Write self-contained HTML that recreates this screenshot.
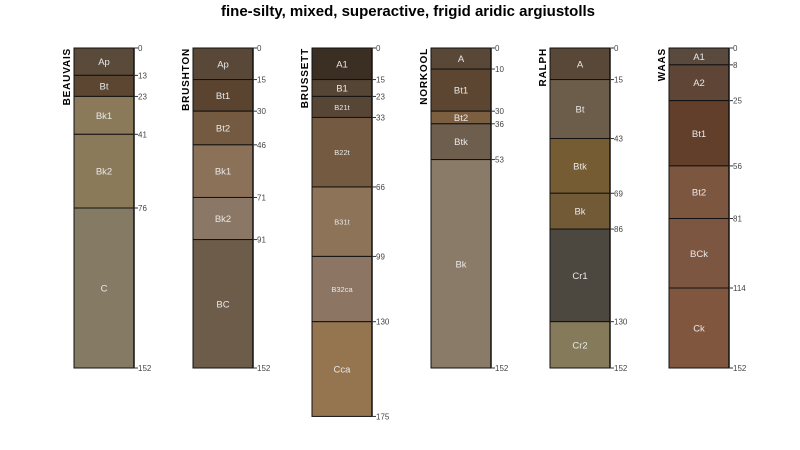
<!DOCTYPE html>
<html><head><meta charset="utf-8"><style>
body{margin:0;background:#fff;}
svg{display:block;font-family:"Liberation Sans",sans-serif;}
</style></head><body>
<svg id="c" width="800" height="450">
<text x="408" y="16" text-anchor="middle" font-size="15" font-weight="bold">fine-silty, mixed, superactive, frigid aridic argiustolls</text>
</svg>
<script>
const profileNames = ["BEAUVAIS","BRUSHTON","BRUSSETT","NORKOOL","RALPH","WAAS"];
const horizonNames = [
 ["Ap","Bt","Bk1","Bk2","C"],
 ["Ap","Bt1","Bt2","Bk1","Bk2","BC"],
 ["A1","B1","B21t","B22t","B31t","B32ca","Cca"],
 ["A","Bt1","Bt2","Btk","Bk"],
 ["A","Bt","Btk","Bk","Cr1","Cr2"],
 ["A1","A2","Bt1","Bt2","BCk","Ck"]
];
const horizonDepths = [
 [0,13,23,41,76,152],
 [0,15,30,46,71,91,152],
 [0,15,23,33,66,99,130,175],
 [0,10,30,36,53,152],
 [0,15,43,69,86,130,152],
 [0,8,25,56,81,114,152]
];
const horizonColors = [
 ["#5a4a3a","#5c4631","#8b7a5a","#8b7a5a","#857a64"],
 ["#594838","#5a4430","#735a40","#8b7158","#8a7765","#6e5c4a"],
 ["#3b2e22","#554535","#574535","#735a40","#8d7357","#8c7663","#957550"],
 ["#594838","#5c4631","#7b5f40","#6e5e4e","#8a7a68"],
 ["#594838","#6b5d4a","#755c33","#735a36","#4c4840","#857a5a"],
 ["#5a4a3e","#5e4535","#623f2a","#7d5640","#7d5642","#80563f"]
];
const NS="http://www.w3.org/2000/svg";
const svg=document.getElementById('c');
const y0=48, pxPerCm=320/152, x0=74, dx=119, w=60;
const yScale=d=>y0+d*pxPerCm;
function mk(tag,attrs,parent){const e=document.createElementNS(NS,tag);for(const k in attrs)e.setAttribute(k,attrs[k]);(parent||svg).appendChild(e);return e;}
profileNames.forEach((pn,i)=>{
 const x=x0+i*dx;
 const g=mk('g',{});
 
 
 const lab=mk('text',{x:0,y:0,transform:`translate(${x-4},${y0}) rotate(-90)`,'text-anchor':'end','font-size':10,'font-weight':'bold','letter-spacing':'0.8'},g);
 lab.textContent=pn;
 
 
 const d=horizonDepths[i];
 horizonNames[i].forEach((hn,j)=>{
  const ya=yScale(d[j]), yb=yScale(d[j+1]);
  const r=mk('rect',{x:x,y:ya,width:w,height:yb-ya,fill:horizonColors[i][j],stroke:'#111','stroke-width':1},g);
  
  
  const small=(i===2&&j>=2&&j<=5);
  const t=mk('text',{x:x+w/2,y:(ya+yb)/2+(small?3:3.5),'text-anchor':'middle','font-size':small?7.5:9.5,fill:'#e8e8e8'},g);
  t.textContent=hn;
  
  
 });
 mk('line',{x1:x+w,y1:y0,x2:x+w,y2:yScale(d[d.length-1]),stroke:'#111','stroke-width':1.5},g);
 d.forEach(v=>{
  const y=yScale(v);
  mk('line',{x1:x+w,y1:y,x2:x+w+4,y2:y,stroke:'#333','stroke-width':1},g);
  const t=mk('text',{x:x+w+4,y:y+3,'font-size':8,fill:'#444'},g);
  t.textContent=v;
  
  
 });
});
</script>
</body></html>
